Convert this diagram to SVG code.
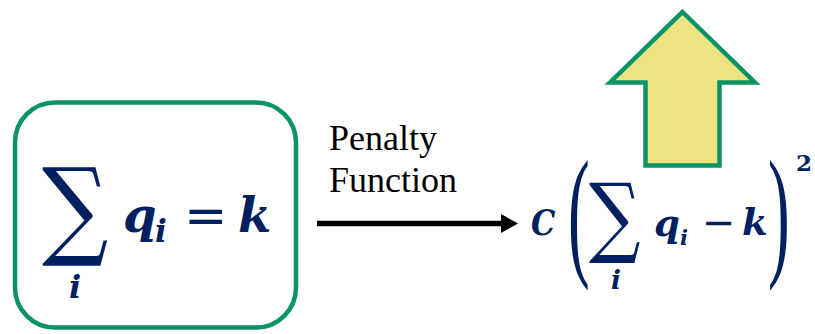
<svg xmlns="http://www.w3.org/2000/svg" width="815" height="334" viewBox="0 0 815 334">
  <style>
    .math { font-family: "DejaVu Serif", "Liberation Serif", serif; font-weight: bold; font-style: italic; fill: #002060; }
    .big { font-family: "DejaVu Serif", "DejaVu Sans", serif; fill: #002060; }
    .op { font-family: "DejaVu Sans", sans-serif; fill: #002060; }
    .paren { font-family: "Liberation Serif", serif; fill: #002060; }
    .sup { font-family: "DejaVu Serif", serif; font-weight: bold; fill: #002060; }
    .label { font-family: "Liberation Serif", "Times New Roman", serif; font-size: 36px; fill: #000000; }
    .frame { fill: #ffffff; stroke: #0A9466; stroke-width: 4.5; }
  </style>

  <rect width="815" height="334" fill="#ffffff"/>

  <!-- constraint box: sum of q_i equals k -->
  <g id="constraint">
    <rect class="frame" x="15" y="102.5" width="281" height="225" rx="40" ry="40"/>
    <text class="big" font-size="108" transform="translate(42,245) scale(0.86,1)">∑</text>
    <text class="math" x="69" y="298" font-size="32">i</text>
    <text class="math" x="123" y="232" font-size="48">q</text>
    <text class="math" x="155" y="242" font-size="31">i</text>
    <text class="op" x="184" y="233" font-size="52">=</text>
    <text class="math" x="238" y="232" font-size="48">k</text>
  </g>

  <!-- connector -->
  <g id="connectors">
    <line x1="317" y1="223.5" x2="503" y2="223.5" stroke="#000000" stroke-width="5.5"/>
    <polygon points="501,214 518,223.5 501,233" fill="#000000"/>
    <text class="label" x="329" y="150">Penalty</text>
    <text class="label" x="329" y="192">Function</text>
  </g>

  <!-- penalty term: C (sum q_i - k)^2 -->
  <g id="penalty">
    <text class="math" font-size="36" transform="translate(531,235) scale(0.85,1)">C</text>
    <text class="paren" font-size="145" transform="translate(568,260) scale(0.45,1)">(</text>
    <text class="big" font-size="88" transform="translate(589,246) scale(0.82,1)">∑</text>
    <text class="math" x="611" y="289" font-size="26">i</text>
    <text class="math" x="654" y="236" font-size="37">q</text>
    <text class="math" x="680" y="245" font-size="21">i</text>
    <text class="op" x="702" y="236" font-size="40">−</text>
    <text class="math" x="742" y="235" font-size="37">k</text>
    <text class="paren" font-size="145" transform="translate(768,260) scale(0.45,1)">)</text>
    <text class="sup" x="796" y="171" font-size="23">2</text>
  </g>

  <!-- increase indicator -->
  <g id="up-arrow">
    <polygon points="682.5,12 755,82.5 719.5,82.5 719.5,165.5 645.5,165.5 645.5,82.5 610,82.5" fill="#ECE482" stroke="#0A9466" stroke-width="4.5" stroke-linejoin="miter"/>
  </g>
</svg>
